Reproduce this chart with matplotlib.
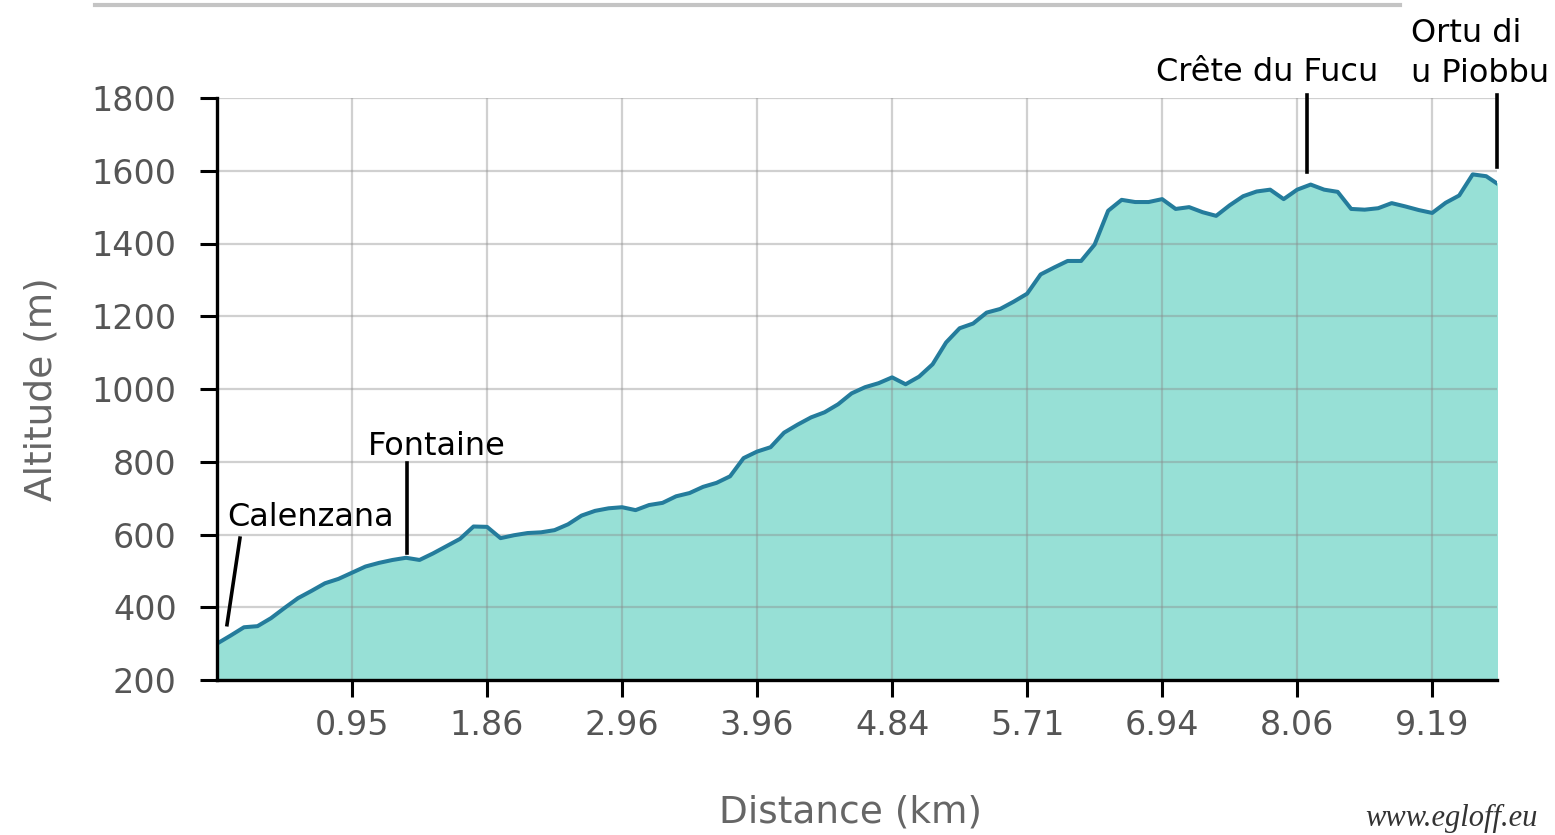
import numpy as np
import matplotlib
matplotlib.use("Agg")
import matplotlib.pyplot as plt
from matplotlib.lines import Line2D

# --- data: altitude profile, one sample per step (10 steps between labelled ticks) ---
altitude = [
    300, 322, 345, 348, 370, 398, 425, 445, 466, 478,
    495, 512, 522, 530, 536, 530, 548, 568, 588, 622,
    621, 590, 598, 604, 606, 612, 628, 652, 665, 672,
    675, 667, 681, 687, 705, 714, 731, 742, 760, 810,
    828, 840, 880, 902, 922, 936, 958, 988, 1005, 1016,
    1032, 1013, 1034, 1068, 1128, 1167, 1180, 1210, 1220, 1240,
    1262, 1315, 1334, 1352, 1352, 1397, 1490, 1520, 1514, 1514,
    1522, 1495, 1500, 1486, 1476, 1505, 1530, 1543, 1548, 1522,
    1548, 1562, 1548, 1542, 1495, 1493, 1497, 1511, 1502, 1492,
    1484, 1512, 1532, 1590, 1585, 1560,
]
tick_pos = [10, 20, 30, 40, 50, 60, 70, 80, 90]
tick_labels = ["0.95", "1.86", "2.96", "3.96", "4.84", "5.71", "6.94", "8.06", "9.19"]

# waypoint labels: (text, line bottom (x, y), line top (x, y), text pos, alignment)
waypoints = [
    ("Calenzana", (0.74, 352), (1.7, 590), (0.75, 648), "left"),
    ("Fontaine", (14.1, 549), (14.1, 796), (16.3, 842), "center"),
    ("Crête du Fucu", (80.7, 1597), (80.7, 1808), (77.8, 1870), "center"),
    ("Ortu di\nu Piobbu", (94.8, 1610), (94.8, 1808), (88.4, 1922), "left"),
]

x = np.arange(len(altitude))

fig = plt.figure(figsize=(15.55, 8.35), dpi=100)
ax = fig.add_axes([217 / 1555, 1 - 680 / 835, 1280 / 1555, 582 / 835])

ax.fill_between(x, 200, altitude, color="#97e0d6", zorder=1)
ax.plot(x, altitude, color="#247c9c", lw=2.9, zorder=3)

ax.set_xlim(0, 94.8)
ax.set_ylim(200, 1800)
ax.set_yticks(range(200, 1801, 200))
ax.set_xticks(tick_pos)
ax.set_xticklabels(tick_labels)

ax.grid(True, color="#8a8a8a", alpha=0.4, lw=1.6, zorder=2)
ax.set_axisbelow(False)

for s in ["top", "right"]:
    ax.spines[s].set_visible(False)
for s in ["left", "bottom"]:
    ax.spines[s].set_linewidth(2.4)
    ax.spines[s].set_zorder(4)

ax.tick_params(axis="y", length=12, width=2.2, pad=17, labelsize=24, labelcolor="#555555")
ax.tick_params(axis="x", length=12, width=2.2, pad=9, labelsize=24, labelcolor="#555555")

ax.set_ylabel("Altitude (m)", fontsize=27, color="#666666", va="center")
ax.yaxis.set_label_coords(-0.137, 0.5)
ax.set_xlabel("Distance (km)", fontsize=27, color="#666666", va="center")
ax.xaxis.set_label_coords(0.495, -0.227)

for name, p0, p1, pt, ha in waypoints:
    ax.plot([p0[0], p1[0]], [p0[1], p1[1]], color="black", lw=2.6, clip_on=False, zorder=5)
    ax.text(pt[0], pt[1], name, ha=ha, va="center", fontsize=23, color="black",
            linespacing=1.35, clip_on=False)

# separator line at the top and watermark
fig.add_artist(Line2D([95 / 1555, 1400 / 1555], [1 - 5 / 835, 1 - 5 / 835],
                      color="#c4c4c4", lw=3))
fig.text(1538 / 1555, 1 - 826 / 835, "www.egloff.eu", ha="right", va="baseline",
         fontsize=22, style="italic", family="Liberation Serif", color="#333333")

fig.savefig("out.png", dpi=100)
